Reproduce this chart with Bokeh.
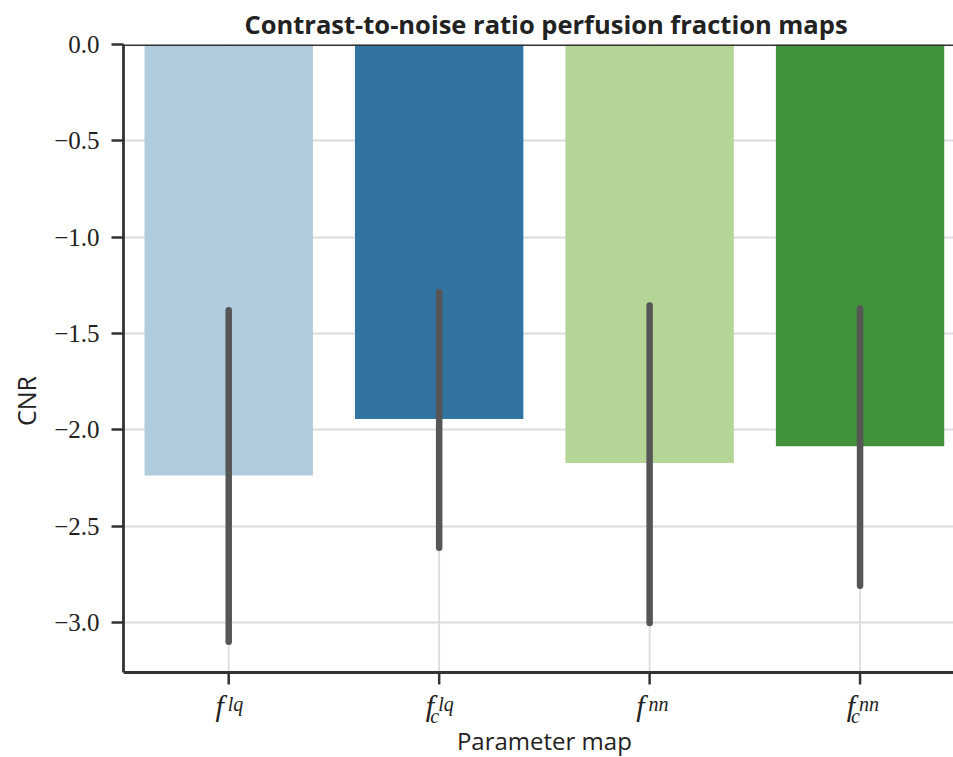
from bokeh.plotting import figure
from bokeh.models import Range1d, FixedTicker, Span, ColumnDataSource
from bokeh.core.properties import value
from bokeh.embed import file_html
from bokeh.resources import INLINE

# ---- data ----
categories = ["f^lq", "f_c^lq", "f^nn", "f_c^nn"]
label_base = ["f", "f", "f", "f"]
label_sup = ["lq", "lq", "nn", "nn"]
label_sub = ["", "c", "", "c"]
cnr_mean = [-2.238, -1.944, -2.172, -2.086]
ci_high = [-1.38, -1.285, -1.355, -1.37]
ci_low = [-3.10, -2.612, -3.003, -2.81]
bar_colors = ["#afcbdc", "#3174a1", "#b4d595", "#41923b"]
y_ticks = [0.0, -0.5, -1.0, -1.5, -2.0, -2.5, -3.0]
y_tick_labels = ["0.0", "\u22120.5", "\u22121.0", "\u22121.5", "\u22122.0", "\u22122.5", "\u22123.0"]
y_min = -3.26
x_axis_title = "Parameter map"
y_axis_title = "CNR"
title = "Contrast-to-noise ratio perfusion fraction maps"

SANS = "Open Sans"
SERIF = "Liberation Serif"
DARK = "#333333"
TXT = "#222222"
GRID = "#dcdcdc"

W, H = 953, 757
TOP, LEFT, AXIS_BOTTOM = 44, 123, 672          # layout in page pixels
ppu = (AXIS_BOTTOM - TOP) / (0 - y_min)         # pixels per data unit
frame_bottom_value = -(H - TOP) / ppu           # data value at bottom edge of the page

def y_at(px):
    """data value for a page-pixel row (used only for text placement below the axis)"""
    return -(px - TOP) / ppu

xs = list(range(len(categories)))
n = len(xs)
src = ColumnDataSource(dict(x=xs, mean=cnr_mean, lo=ci_low, hi=ci_high,
                            color=bar_colors, zero=[0.0] * n, ymin=[y_min] * n,
                            tick_end=[y_min - 12 / ppu] * n))

p = figure(width=W, height=H,
           x_range=Range1d(-0.5, 3.444), y_range=Range1d(frame_bottom_value, 0.0),
           output_backend="svg", toolbar_location=None, x_axis_location=None,
           min_border_left=LEFT, min_border_right=0,
           min_border_top=TOP, min_border_bottom=0)

p.title.text = title
p.title.text_font = SANS
p.title.text_font_style = "bold"
p.title.text_font_size = "25.5px"
p.title.text_color = TXT
p.title.align = "left"
p.title.offset = 121
p.title.standoff = 8

p.outline_line_color = None
p.xgrid.visible = False
p.ygrid.grid_line_color = GRID
p.ygrid.grid_line_width = 1.8

# vertical grid lines (only inside the axes box)
p.segment(x0="x", x1="x", y0="ymin", y1="zero", line_color=GRID, line_width=1.8,
          level="underlay", source=src)

# bars and error bars
p.vbar(x="x", top="zero", bottom="mean", width=0.8, fill_color="color",
       line_color=None, source=src)
p.segment(x0="x", x1="x", y0="lo", y1="hi", line_width=6.5,
          line_color="#565656", line_cap="round", source=src)

# spines
p.add_layout(Span(location=0.0, dimension="width", line_color=DARK, line_width=2.8))
p.add_layout(Span(location=y_min, dimension="width", line_color=DARK, line_width=2.8))
# x ticks
p.segment(x0="x", x1="x", y0="ymin", y1="tick_end", line_color=DARK, line_width=2.5,
          source=src)

# y axis
ya = p.yaxis[0]
ya.bounds = (y_min, 0.0)
ya.axis_line_color = DARK
ya.axis_line_width = 2.8
ya.major_tick_line_color = DARK
ya.major_tick_line_width = 2.5
ya.major_tick_out = 12
ya.major_tick_in = 0
ya.minor_tick_line_color = None
ya.ticker = FixedTicker(ticks=y_ticks)
ya.major_label_overrides = {t: s for t, s in zip(y_ticks, y_tick_labels)}
ya.major_label_text_font = SERIF
ya.major_label_text_font_size = "25px"
ya.major_label_text_color = TXT
ya.major_label_standoff = 12
ya.axis_label = y_axis_title
ya.axis_label_text_font = SANS
ya.axis_label_text_font_style = "normal"
ya.axis_label_text_font_size = "25px"
ya.axis_label_text_color = TXT
ya.axis_label_standoff = 8

# math-style x tick labels and the x axis title (y = vertical middle of each text)
p.text(x=xs, y=[y_at(705)] * n, text=label_base, text_font=value(SERIF),
       text_font_style="italic", text_font_size="30px", text_color=TXT,
       text_align="right", text_baseline="middle", x_offset=-5)
p.text(x=xs, y=[y_at(703.5)] * n, text=label_sup, text_font=value(SERIF),
       text_font_style="italic", text_font_size="20px", text_color=TXT,
       text_align="left", text_baseline="middle", x_offset=-1)
p.text(x=xs, y=[y_at(715.5)] * n, text=label_sub, text_font=value(SERIF),
       text_font_style="italic", text_font_size="20px", text_color=TXT,
       text_align="left", text_baseline="middle", x_offset=-9)
p.text(x=[(xs[0] + xs[-1]) / 2], y=[y_at(740)], text=[x_axis_title], text_font=value(SANS),
       text_font_size="24px", text_color=TXT,
       text_align="center", text_baseline="middle")

open("out.html", "w").write(file_html(p, INLINE))
